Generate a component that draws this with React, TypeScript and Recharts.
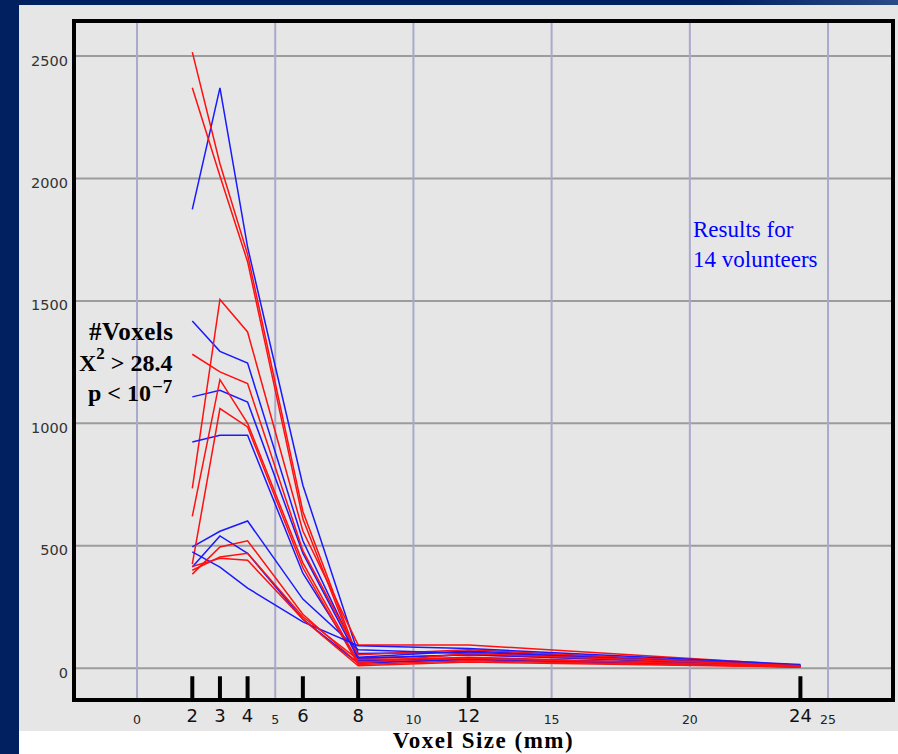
import React from 'react';
import { LineChart, Line, XAxis, YAxis, CartesianGrid, ReferenceLine } from 'recharts';

// ---- data ----
const voxelSizes = [2, 3, 4, 6, 8, 12, 24];

const blue1 = [1874, 2370, 1720, 747, 60, 65, 12];
const blue2 = [1418, 1294, 1246, 520, 45, 70, 10];
const blue3 = [1108, 1135, 1087, 470, 40, 55, 10];
const blue4 = [924, 951, 951, 388, 30, 40, 8];
const blue5 = [495, 559, 601, 282, 75, 60, 12];
const blue6 = [413, 540, 469, 200, 20, 35, 6];
const blue7 = [475, 413, 327, 189, 92, 80, 15];

const red1 = [2516, 2060, 1690, 640, 40, 55, 8];
const red2 = [2370, 2010, 1660, 610, 30, 45, 6];
const red3 = [734, 1506, 1373, 560, 95, 95, 12];
const red4 = [1282, 1210, 1162, 480, 55, 75, 10];
const red5 = [620, 1178, 1000, 430, 25, 35, 5];
const red6 = [425, 1060, 985, 410, 15, 30, 5];
const red7 = [384, 495, 520, 220, 20, 60, 10];
const red8 = [400, 454, 469, 210, 35, 40, 8];
const red9 = [415, 449, 441, 200, 10, 25, 4];

const blueSeries = [blue1, blue2, blue3, blue4, blue5, blue6, blue7];
const redSeries = [red1, red2, red3, red4, red5, red6, red7, red8, red9];

const yTicks = [0, 500, 1000, 1500, 2000, 2500];
const gridX = [0, 5, 10, 15, 20, 25];
const majorXTicks = [2, 3, 4, 6, 8, 12, 24];
const allXTicks = [0, 2, 3, 4, 5, 6, 8, 10, 12, 15, 20, 24, 25];
const X_DOMAIN: [number, number] = [-2.28, 27.35];
const Y_DOMAIN: [number, number] = [-130, 2643];
const TICK_MARK_TOP = -33;

const data = voxelSizes.map((x, i) => {
  const row: Record<string, number> = { x };
  blueSeries.forEach((s, k) => { row['b' + k] = s[i]; });
  redSeries.forEach((s, k) => { row['r' + k] = s[i]; });
  return row;
});

const seriesOrder: { key: string; color: string }[] = [];
for (let k = 0; k < Math.max(blueSeries.length, redSeries.length); k++) {
  if (k < blueSeries.length) seriesOrder.push({ key: 'b' + k, color: '#1a1aff' });
  if (k < redSeries.length) seriesOrder.push({ key: 'r' + k, color: '#ff1010' });
}

const XTick = (props: any) => {
  const { x, y, payload } = props;
  const v = payload.value;
  const major = majorXTicks.includes(v);
  return (
    <text
      x={x}
      y={y + (major ? 22 : 24)}
      textAnchor="middle"
      fontSize={major ? 18 : 12.5}
      fill={major ? '#111' : '#222'}
      fontFamily="DejaVu Sans"
    >
      {v}
    </text>
  );
};

const YTick = (props: any) => {
  const { x, y, payload } = props;
  return (
    <text x={x - 4} y={y + 9.5} textAnchor="end" fontSize={14.5} fill="#333" fontFamily="DejaVu Sans">
      {payload.value}
    </text>
  );
};

const serif = '"Liberation Serif", "DejaVu Serif", serif';

export default function App() {
  return (
    <div style={{ position: 'absolute', left: 0, top: 0, width: 898, height: 754, background: '#002060', overflow: 'hidden' }}>
      <div style={{ position: 'absolute', left: 0, top: 0, width: 898, height: 5, background: 'linear-gradient(90deg, #002060 0%, #002060 80%, #2a4a88 100%)' }} />
      <div style={{ position: 'absolute', left: 19, top: 5, width: 879, height: 726, background: '#e6e6e6' }} />
      <div style={{ position: 'absolute', left: 19, top: 731, width: 879, height: 23, background: '#ffffff' }} />
      <div style={{ position: 'absolute', left: 0, top: 0 }}>
        <LineChart width={898} height={754} data={data} margin={{ top: 21, right: 5, bottom: 0, left: 0 }}>
          <CartesianGrid horizontal vertical={false} stroke="#9c9c9c" strokeWidth={2} />
          {gridX.map((g) => (
            <ReferenceLine key={'gx' + g} x={g} stroke="#a9a9cc" strokeWidth={2} />
          ))}
          {majorXTicks.map((t) => (
            <ReferenceLine
              key={'tk' + t}
              segment={[{ x: t, y: Y_DOMAIN[0] }, { x: t, y: TICK_MARK_TOP }]}
              stroke="#000"
              strokeWidth={4}
              ifOverflow="visible"
            />
          ))}
          <ReferenceLine y={Y_DOMAIN[1]} stroke="#000" strokeWidth={4} strokeLinecap="square" ifOverflow="visible" />
          <ReferenceLine x={X_DOMAIN[1]} stroke="#000" strokeWidth={4} strokeLinecap="square" ifOverflow="visible" />
          <XAxis
            dataKey="x"
            type="number"
            domain={X_DOMAIN}
            allowDataOverflow
            ticks={allXTicks}
            interval={0}
            tick={<XTick />}
            tickLine={false}
            tickSize={0}
            tickMargin={0}
            height={54}
            axisLine={{ stroke: '#000', strokeWidth: 4, strokeLinecap: 'square' }}
            label={{ value: 'Voxel Size (mm)', position: 'insideBottom', offset: 6, fill: '#000', fontSize: 23, fontWeight: 'bold', fontFamily: serif, letterSpacing: 1.5 }}
          />
          <YAxis
            type="number"
            domain={Y_DOMAIN}
            allowDataOverflow
            ticks={yTicks}
            interval={0}
            width={74}
            tick={<YTick />}
            tickLine={false}
            tickSize={0}
            axisLine={{ stroke: '#000', strokeWidth: 4, strokeLinecap: 'square' }}
          />
          {seriesOrder.map((s) => (
            <Line
              key={s.key}
              dataKey={s.key}
              stroke={s.color}
              strokeWidth={1.5}
              dot={false}
              activeDot={false}
              isAnimationActive={false}
              type="linear"
            />
          ))}
        </LineChart>
      </div>
      <svg width={898} height={754} style={{ position: 'absolute', left: 0, top: 0, pointerEvents: 'none' }}>
        <text x={89} y={340} fontFamily={serif} fontSize={25} fontWeight="bold" fill="#000" letterSpacing={0.5}>#Voxels</text>
        <text x={79} y={371} fontFamily={serif} fontSize={24} fontWeight="bold" fill="#000">
          X<tspan dy={-12} fontSize={17}>2</tspan>
          <tspan dy={12}> &gt; 28.4</tspan>
        </text>
        <text x={88} y={401} fontFamily={serif} fontSize={24} fontWeight="bold" fill="#000">
          p &lt; 10<tspan dx={1} dy={-8} fontSize={19}>−7</tspan>
        </text>
        <text x={693} y={237} fontFamily={serif} fontSize={23} fill="#0000ff">Results for</text>
        <text x={693} y={267} fontFamily={serif} fontSize={23} fill="#0000ff">14 volunteers</text>
      </svg>
    </div>
  );
}
